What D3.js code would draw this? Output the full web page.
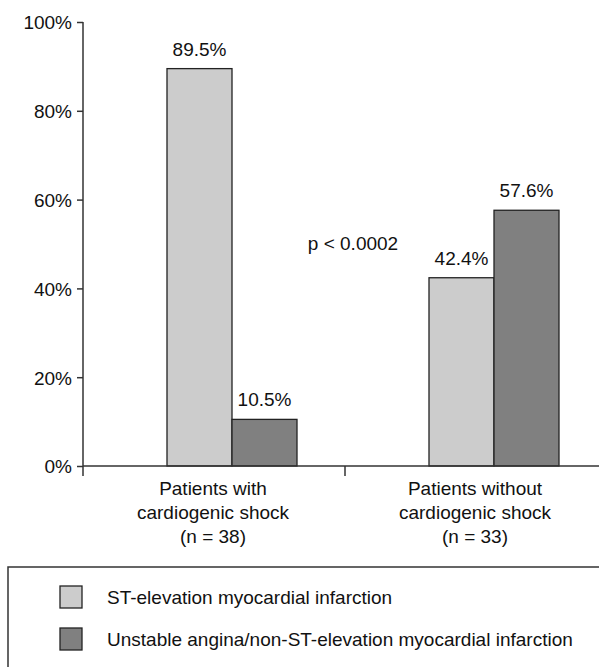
<!DOCTYPE html>
<html>
<head>
<meta charset="utf-8">
<script src="https://cdn.jsdelivr.net/npm/d3@7"></script>
<style>
  body { margin: 0; background: #fff; }
  svg text { font-family: "Liberation Sans", Arial, sans-serif; font-size: 19px; fill: #111; }
</style>
</head>
<body>
<div id="chart"></div>
<script>
// Data
const groups = ['with', 'without'];
const groupLabels = [
  ['Patients with', 'cardiogenic shock', '(n = 38)'],
  ['Patients without', 'cardiogenic shock', '(n = 33)']
];
const series = ['ST-elevation myocardial infarction', 'Unstable angina/non-ST-elevation myocardial infarction'];
const stemiValues = [89.5, 42.4];
const uaValues = [10.5, 57.6];
const yTicks = [0, 20, 40, 60, 80, 100];
const pLabel = 'p < 0.0002';

const colors = ['#cccccc', '#808080'];
const stroke = '#222';

// Layout
const width = 599;
const height = 667;
const leftMargin = 83;
const topMargin = 22;
const plotH = 444;
const bandW = 262;

const svg = d3.select('#chart')
  .append('svg')
  .attr('width', width)
  .attr('height', height);

const x0 = d3.scaleBand()
  .domain(groups)
  .range([leftMargin, leftMargin + bandW * groups.length]);

const x1 = d3.scaleBand()
  .domain(series)
  .range([84, 214]);

const y = d3.scaleLinear()
  .domain([0, 100])
  .range([topMargin + plotH, topMargin]);

// Bars
const rows = groups.map((g, i) => ({
  group: g,
  values: [stemiValues[i], uaValues[i]]
}));

const barG = svg.selectAll('.grp')
  .data(rows)
  .enter().append('g')
  .attr('class', 'grp')
  .attr('transform', d => `translate(${x0(d.group)},0)`);

barG.selectAll('rect')
  .data(d => d.values.map((v, j) => ({ key: series[j], value: v, j: j })))
  .enter().append('rect')
  .attr('x', d => x1(d.key))
  .attr('y', d => y(d.value))
  .attr('width', x1.bandwidth())
  .attr('height', d => y(0) - y(d.value))
  .style('fill', d => colors[d.j])
  .style('stroke', stroke)
  .style('stroke-width', 1.3);

barG.selectAll('.val')
  .data(d => d.values.map((v, j) => ({ key: series[j], value: v })))
  .enter().append('text')
  .attr('class', 'val')
  .attr('x', d => x1(d.key) + x1.bandwidth() / 2)
  .attr('y', d => y(d.value) - 13)
  .attr('text-anchor', 'middle')
  .text(d => d.value.toFixed(1) + '%');

// Y axis
const yAxis = d3.axisLeft(y)
  .tickValues(yTicks)
  .tickSize(6)
  .tickFormat(d => d + '%');

const yG = svg.append('g')
  .attr('transform', `translate(${leftMargin},0)`)
  .call(yAxis);
yG.select('.domain').remove();
yG.selectAll('line').style('stroke', '#333').style('stroke-width', 1.5);
yG.selectAll('text')
  .attr('x', -11)
  .attr('dy', '0.36em')
  .style('font-family', '"Liberation Sans", Arial, sans-serif')
  .style('font-size', '19px')
  .style('fill', '#111');

// y axis line, running a bit under the baseline
svg.append('line')
  .attr('x1', leftMargin).attr('x2', leftMargin)
  .attr('y1', y(100)).attr('y2', y(0) + 10)
  .style('stroke', '#333').style('stroke-width', 1.5);

// X axis line and group separators
svg.append('line')
  .attr('x1', leftMargin).attr('x2', width)
  .attr('y1', y(0)).attr('y2', y(0))
  .style('stroke', '#333').style('stroke-width', 1.5);

svg.selectAll('.sep')
  .data(groups.slice(1))
  .enter().append('line')
  .attr('class', 'sep')
  .attr('x1', d => x0(d)).attr('x2', d => x0(d))
  .attr('y1', y(0)).attr('y2', y(0) + 10)
  .style('stroke', '#333').style('stroke-width', 1.5);

// Group labels
groups.forEach((g, i) => {
  const t = svg.append('text')
    .attr('x', x0(g) + x0.bandwidth() / 2 - 1)
    .attr('y', y(0) + 29)
    .attr('text-anchor', 'middle');
  groupLabels[i].forEach((line, k) => {
    t.append('tspan')
      .attr('x', x0(g) + x0.bandwidth() / 2 - 1)
      .attr('dy', k === 0 ? 0 : 24)
      .text(line);
  });
});

// p value
svg.append('text')
  .attr('x', x0(groups[1]) + 8)
  .attr('y', y(48.6))
  .attr('text-anchor', 'middle')
  .text(pLabel);

// Legend
svg.append('rect')
  .attr('x', 8)
  .attr('y', 567)
  .attr('width', 620)
  .attr('height', 140)
  .style('fill', 'none')
  .style('stroke', '#333')
  .style('stroke-width', 1.5);

const leg = svg.selectAll('.leg')
  .data(series)
  .enter().append('g')
  .attr('class', 'leg')
  .attr('transform', (d, i) => `translate(60,${586 + i * 42})`);

leg.append('rect')
  .attr('width', 22)
  .attr('height', 22)
  .style('fill', (d, i) => colors[i])
  .style('stroke', stroke)
  .style('stroke-width', 1.3);

leg.append('text')
  .attr('x', 47)
  .attr('y', 18)
  .text(d => d);
</script>
</body>
</html>
